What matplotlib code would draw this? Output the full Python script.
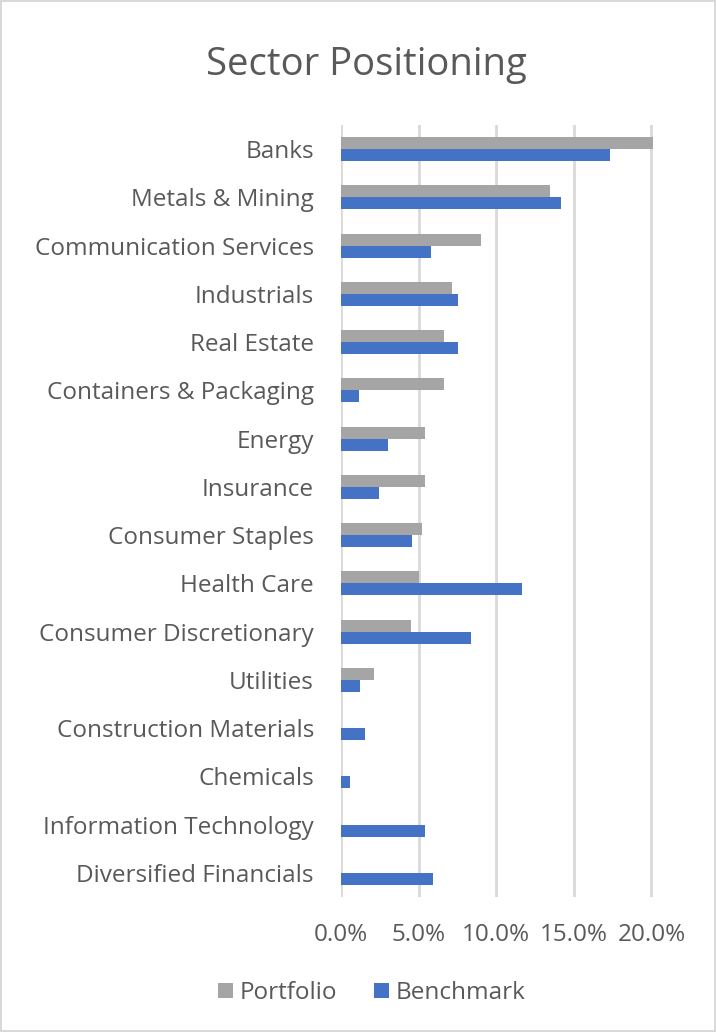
import matplotlib
matplotlib.use("Agg")
import matplotlib.pyplot as plt
from matplotlib.ticker import FuncFormatter
import numpy as np

categories = ["Banks", "Metals & Mining", "Communication Services", "Industrials",
              "Real Estate", "Containers & Packaging", "Energy", "Insurance",
              "Consumer Staples", "Health Care", "Consumer Discretionary", "Utilities",
              "Construction Materials", "Chemicals", "Information Technology",
              "Diversified Financials"]
portfolio = [20.1, 13.45, 9.0, 7.15, 6.65, 6.65, 5.4, 5.4, 5.2, 5.0, 4.5, 2.1,
             0.0, 0.0, 0.0, 0.0]
benchmark = [17.3, 14.15, 5.8, 7.55, 7.55, 1.15, 3.0, 2.45, 4.6, 11.65, 8.35, 1.25,
             1.55, 0.55, 5.4, 5.9]
x_ticks = [0, 5, 10, 15, 20]

FONT = ["Open Sans", "DejaVu Sans"]
TXT = "#595959"
plt.rcParams["font.family"] = FONT

fig = plt.figure(figsize=(7.16, 10.32), dpi=100)
fig.patch.set_facecolor("white")
fig.patch.set_edgecolor("#d9d9d9")
fig.patch.set_linewidth(1.5)

ax = fig.add_axes([341/716, 1-897/1032, (653-341)/716, (897-125)/1032])
y = np.arange(len(categories))
h = 0.25
ax.barh(y - h/2, portfolio, height=h, color="#A5A5A5", label="Portfolio", zorder=3)
ax.barh(y + h/2, benchmark, height=h, color="#4472C4", label="Benchmark", zorder=3)

ax.set_ylim(len(categories) - 0.5, -0.5)
ax.set_xlim(0, 20.1)
ax.set_xticks(x_ticks)
ax.xaxis.set_major_formatter(FuncFormatter(lambda v, p: f"{v:.1f}%"))
ax.set_yticks(y)
ax.set_yticklabels(categories)
ax.grid(axis="x", color="#d9d9d9", linewidth=2, zorder=0)
for s in ax.spines.values():
    s.set_visible(False)
ax.tick_params(axis="both", length=0, colors=TXT)
ax.tick_params(axis="y", pad=19.5, labelsize=17.5)
ax.tick_params(axis="x", pad=19, labelsize=17.5)

fig.text(366/716, 1-65/1032, "Sector Positioning", ha="center", va="center",
         fontsize=27.5, color=TXT)

fig.legend(loc="center", bbox_to_anchor=(372/716, 1-993/1032), ncol=2, frameon=False,
           fontsize=17.5, labelcolor=TXT, handlelength=0.6, handleheight=0.6,
           columnspacing=1.5, handletextpad=0.3)

fig.savefig("out.png", dpi=100)
